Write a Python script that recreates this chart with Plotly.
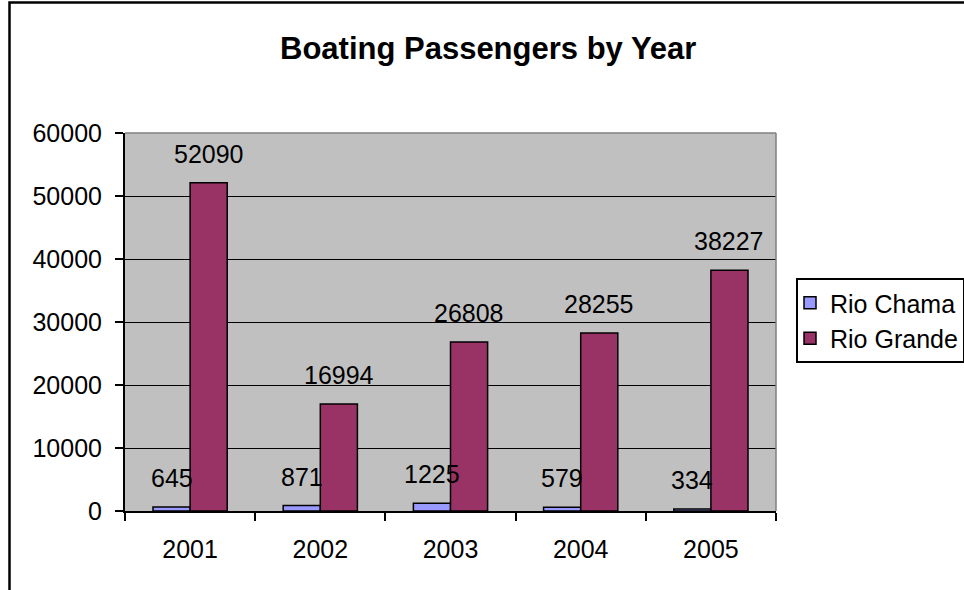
import plotly.graph_objects as go

# Data
years = ["2001", "2002", "2003", "2004", "2005"]
rio_chama = [645, 871, 1225, 579, 334]
rio_grande = [52090, 16994, 26808, 28255, 38227]
series_names = ["Rio Chama", "Rio Grande"]
y_ticks = [0, 10000, 20000, 30000, 40000, 50000, 60000]

FONT = "Liberation Sans, Arial, sans-serif"
TXT = 25
W, H = 964, 590
ML, MR, MT, MB = 125, 188, 133, 79
PW, PH = W - ML - MR, H - MT - MB
BARGAP = 0.43

fig = go.Figure()
fig.add_trace(go.Bar(
    x=years, y=rio_chama, name=series_names[0],
    marker=dict(color="#9999FF", line=dict(color="black", width=1.5)),
))
fig.add_trace(go.Bar(
    x=years, y=rio_grande, name=series_names[1],
    marker=dict(color="#993366", line=dict(color="black", width=1.5)),
))

# value labels above each bar
half = (1 - BARGAP) / 4
annotations = []
for i, (a, b) in enumerate(zip(rio_chama, rio_grande)):
    for val, off in ((a, -half), (b, half)):
        annotations.append(dict(
            x=i + off, y=val, xref="x", yref="y", text=str(val),
            showarrow=False, yanchor="bottom", xanchor="center", yshift=13,
            font=dict(family=FONT, size=TXT, color="black"),
        ))

# chart title
annotations.append(dict(
    x=(488 - ML) / PW, y=(H - MB - 48) / PH, xref="paper", yref="paper",
    text="<b>Boating Passengers by Year</b>", showarrow=False,
    xanchor="center", yanchor="middle",
    font=dict(family=FONT, size=31, color="black"),
))

def px_x(p):
    return (p - ML) / PW

def px_y(p):
    return (H - MB - p) / PH

shapes = [
    # plot area top and right edges
    dict(type="line", xref="paper", yref="paper", x0=0, x1=1, y0=1, y1=1,
         line=dict(color="#808080", width=1.5)),
    dict(type="line", xref="paper", yref="paper", x0=1, x1=1, y0=0, y1=1,
         line=dict(color="#808080", width=1.5)),
    # chart outer frame
    dict(type="rect", xref="paper", yref="paper",
         x0=px_x(9.5), x1=px_x(1000), y0=px_y(630), y1=px_y(2.5),
         line=dict(color="black", width=2.5), fillcolor="rgba(0,0,0,0)"),
]

fig.update_layout(
    width=W, height=H,
    margin=dict(l=ML, r=MR, t=MT, b=MB, pad=0, autoexpand=False),
    paper_bgcolor="white", plot_bgcolor="#C0C0C0",
    barmode="group", bargap=BARGAP, bargroupgap=0,
    font=dict(family=FONT, size=TXT, color="black"),
    showlegend=True,
    legend=dict(
        x=px_x(796), y=px_y(278), xanchor="left", yanchor="top",
        bordercolor="black", borderwidth=2, bgcolor="white",
        font=dict(family=FONT, size=TXT, color="black"),
        tracegroupgap=0, indentation=-8,
    ),
    annotations=annotations,
    shapes=shapes,
)

fig.update_xaxes(
    type="category", tickson="boundaries", ticks="outside", ticklen=8,
    tickwidth=1.5, tickcolor="black", showline=True, linecolor="black",
    linewidth=2, showgrid=False, ticklabelstandoff=15,
    tickfont=dict(family=FONT, size=TXT, color="black"),
)
fig.update_yaxes(
    range=[0, 60000], tickvals=y_ticks, ticktext=[str(v) for v in y_ticks],
    ticks="outside", ticklen=8, tickwidth=1.5, tickcolor="black",
    showline=True, linecolor="black", linewidth=2,
    showgrid=True, gridcolor="black", gridwidth=1.3, zeroline=False,
    ticklabelstandoff=8,
    tickfont=dict(family=FONT, size=TXT, color="black"),
)

fig.write_html("out.html")
